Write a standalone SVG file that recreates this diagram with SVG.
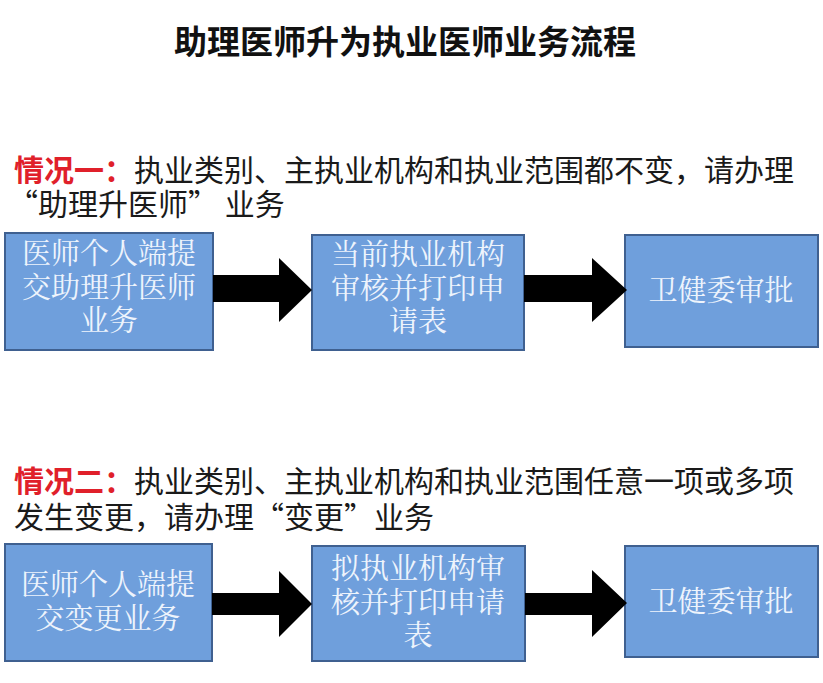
<svg xmlns="http://www.w3.org/2000/svg" width="823" height="683" viewBox="0 0 823 683">
<style>
.title{font-family:"Noto Sans CJK SC","Liberation Sans",sans-serif;font-size:33px;font-weight:bold;fill:#111;}
.head{font-family:"Noto Sans CJK SC","Liberation Sans",sans-serif;font-size:30px;fill:#1a1a1a;}
.red{fill:#e0202a;font-weight:bold;}
.box{fill:#6f9fdc;stroke:#3f6090;stroke-width:2;}
.bt{font-family:"Noto Serif CJK SC","Noto Sans CJK SC",serif;font-size:29px;fill:#eef4fc;text-anchor:middle;}
.arr{fill:#000;}
</style>
<rect width="823" height="683" fill="#fff"/>
<text class="title" x="405" y="54" text-anchor="middle">助理医师升为执业医师业务流程</text>

<g id="case1">
<text class="head" x="14" y="181"><tspan class="red">情况一：</tspan>执业类别、主执业机构和执业范围都不变，请办理</text>
<text class="head" x="8" y="215">“助理升医师” 业务</text>
</g>

<g id="n1">
<rect class="box" x="5" y="233" width="208" height="117"/>
<text class="bt" x="109" y="264">医师个人端提</text>
<text class="bt" x="109" y="298">交助理升医师</text>
<text class="bt" x="109" y="331">业务</text>
</g>
<g id="n2">
<rect class="box" x="312" y="235" width="212" height="115"/>
<text class="bt" x="418" y="265">当前执业机构</text>
<text class="bt" x="418" y="299">审核并打印申</text>
<text class="bt" x="418" y="332">请表</text>
</g>
<g id="n3">
<rect class="box" x="625" y="235" width="193" height="112"/>
<text class="bt" x="721" y="301">卫健委审批</text>
</g>

<g id="case2">
<text class="head" x="14" y="492"><tspan class="red">情况二：</tspan>执业类别、主执业机构和执业范围任意一项或多项</text>
<text class="head" x="14" y="528">发生变更，请办理“变更”业务</text>
</g>

<g id="n4">
<rect class="box" x="5" y="544" width="207" height="117"/>
<text class="bt" x="108" y="595">医师个人端提</text>
<text class="bt" x="108" y="629">交变更业务</text>
</g>
<g id="n5">
<rect class="box" x="312" y="546" width="213" height="115"/>
<text class="bt" x="418" y="579">拟执业机构审</text>
<text class="bt" x="418" y="613">核并打印申请</text>
<text class="bt" x="418" y="646">表</text>
</g>
<g id="n6">
<rect class="box" x="625" y="546" width="193" height="111"/>
<text class="bt" x="721" y="612">卫健委审批</text>
</g>

<g id="connectors">
<polygon class="arr" points="213,275 279,275 279,258 312,290 279,322 279,302 213,302"/>
<polygon class="arr" points="524,275 592,275 592,258 627,290 592,322 592,302 524,302"/>
<polygon class="arr" points="212,593 279,593 279,571 312,604 279,637 279,615 212,615"/>
<polygon class="arr" points="525,593 592,593 592,570 627,603 592,637 592,615 525,615"/>
</g>
</svg>
